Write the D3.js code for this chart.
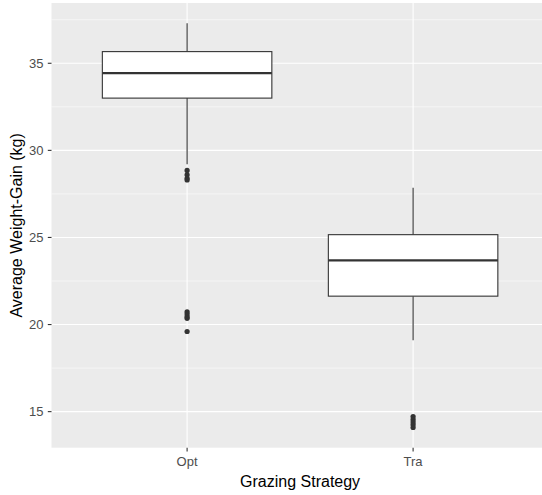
<!DOCTYPE html>
<html>
<head>
<meta charset="utf-8">
<script src="https://cdn.jsdelivr.net/npm/d3@7"></script>
<style>
  body { margin: 0; background: #fff; }
  svg { display: block; font-family: "Liberation Sans", Arial, sans-serif; }
  .grid-major { stroke: #fff; stroke-width: 1.1px; }
  .grid-minor { stroke: #fff; stroke-width: 0.55px; }
  .tick-label { fill: #4d4d4d; font-size: 13px; }
  .axis-title { fill: #000; font-size: 16px; }
</style>
</head>
<body>
<svg id="chart" width="542" height="495"></svg>
<script>
const categories = ["Opt", "Tra"];
const whiskerLow = [29.2, 19.1];
const q1 = [33.0, 21.63];
const median = [34.44, 23.68];
const q3 = [35.67, 25.16];
const whiskerHigh = [37.3, 27.86];
const outliers = [
  [28.85, 28.6, 28.4, 28.3, 20.73, 20.6, 20.45, 20.36, 19.6],
  [14.72, 14.55, 14.4, 14.25, 14.09]
];
const yTicks = [15, 20, 25, 30, 35];
const yMinor = [17.5, 22.5, 27.5, 32.5, 37.5];

const svg = d3.select("#chart");
const panel = { left: 51.5, top: 3, bottom: 447.7 };
const unit = 226;

// discrete x positions 1..n with ggplot's 0.6 expansion
const x = d3.scaleLinear()
  .domain([0.4, categories.length + 0.6])
  .range([panel.left, panel.left + unit * (categories.length - 1 + 1.2)]);

const yMin = d3.min(outliers.flat().concat(whiskerLow));
const yMax = d3.max(outliers.flat().concat(whiskerHigh));
const pad = (yMax - yMin) * 0.05;
const y = d3.scaleLinear()
  .domain([yMin - pad, yMax + pad])
  .range([panel.bottom, panel.top]);

const [x0, x1] = x.range();

svg.append("rect")
  .attr("x", x0).attr("y", panel.top)
  .attr("width", x1 - x0).attr("height", panel.bottom - panel.top)
  .attr("fill", "#ebebeb");

svg.selectAll(".grid-minor")
  .data(yMinor)
  .enter().append("line")
  .attr("class", "grid-minor")
  .attr("x1", x0).attr("x2", x1)
  .attr("y1", d => y(d)).attr("y2", d => y(d));

svg.selectAll(".grid-major-y")
  .data(yTicks)
  .enter().append("line")
  .attr("class", "grid-major")
  .attr("x1", x0).attr("x2", x1)
  .attr("y1", d => y(d)).attr("y2", d => y(d));

svg.selectAll(".grid-major-x")
  .data(categories)
  .enter().append("line")
  .attr("class", "grid-major")
  .attr("x1", (d, i) => x(i + 1)).attr("x2", (d, i) => x(i + 1))
  .attr("y1", panel.top).attr("y2", panel.bottom);

// boxes
const half = unit * 0.375;
const boxes = svg.selectAll(".box")
  .data(categories)
  .enter().append("g")
  .attr("class", "box");

boxes.append("line")
  .attr("x1", (d, i) => x(i + 1)).attr("x2", (d, i) => x(i + 1))
  .attr("y1", (d, i) => y(whiskerHigh[i])).attr("y2", (d, i) => y(q3[i]))
  .attr("stroke", "#333").attr("stroke-width", 1.1);

boxes.append("line")
  .attr("x1", (d, i) => x(i + 1)).attr("x2", (d, i) => x(i + 1))
  .attr("y1", (d, i) => y(q1[i])).attr("y2", (d, i) => y(whiskerLow[i]))
  .attr("stroke", "#333").attr("stroke-width", 1.1);

boxes.append("rect")
  .attr("x", (d, i) => x(i + 1) - half)
  .attr("y", (d, i) => y(q3[i]))
  .attr("width", half * 2)
  .attr("height", (d, i) => y(q1[i]) - y(q3[i]))
  .attr("fill", "#fff")
  .attr("stroke", "#333").attr("stroke-width", 1.1);

boxes.append("line")
  .attr("x1", (d, i) => x(i + 1) - half).attr("x2", (d, i) => x(i + 1) + half)
  .attr("y1", (d, i) => y(median[i])).attr("y2", (d, i) => y(median[i]))
  .attr("stroke", "#333").attr("stroke-width", 2.2);

boxes.each(function (d, i) {
  d3.select(this).selectAll("circle")
    .data(outliers[i])
    .enter().append("circle")
    .attr("cx", x(i + 1))
    .attr("cy", v => y(v))
    .attr("r", 2.6)
    .attr("fill", "#333");
});

// y axis
const yAxis = svg.append("g");
yAxis.selectAll("line")
  .data(yTicks)
  .enter().append("line")
  .attr("x1", x0 - 3.7).attr("x2", x0)
  .attr("y1", d => y(d)).attr("y2", d => y(d))
  .attr("stroke", "#333").attr("stroke-width", 1.1);
yAxis.selectAll("text")
  .data(yTicks)
  .enter().append("text")
  .attr("class", "tick-label")
  .attr("x", x0 - 8)
  .attr("y", d => y(d))
  .attr("dy", "0.36em")
  .attr("text-anchor", "end")
  .text(d => d);

// x axis
const xAxis = svg.append("g");
xAxis.selectAll("line")
  .data(categories)
  .enter().append("line")
  .attr("x1", (d, i) => x(i + 1)).attr("x2", (d, i) => x(i + 1))
  .attr("y1", panel.bottom).attr("y2", panel.bottom + 3.7)
  .attr("stroke", "#333").attr("stroke-width", 1.1);
xAxis.selectAll("text")
  .data(categories)
  .enter().append("text")
  .attr("class", "tick-label")
  .attr("x", (d, i) => x(i + 1))
  .attr("y", panel.bottom + 18.5)
  .attr("text-anchor", "middle")
  .text(d => d);

svg.append("text")
  .attr("class", "axis-title")
  .attr("x", (x(1) + x(2)) / 2)
  .attr("y", 487)
  .attr("text-anchor", "middle")
  .text("Grazing Strategy");

svg.append("text")
  .attr("class", "axis-title")
  .attr("transform", `translate(22,${(panel.top + panel.bottom) / 2}) rotate(-90)`)
  .attr("text-anchor", "middle")
  .text("Average Weight-Gain (kg)");
</script>
</body>
</html>
